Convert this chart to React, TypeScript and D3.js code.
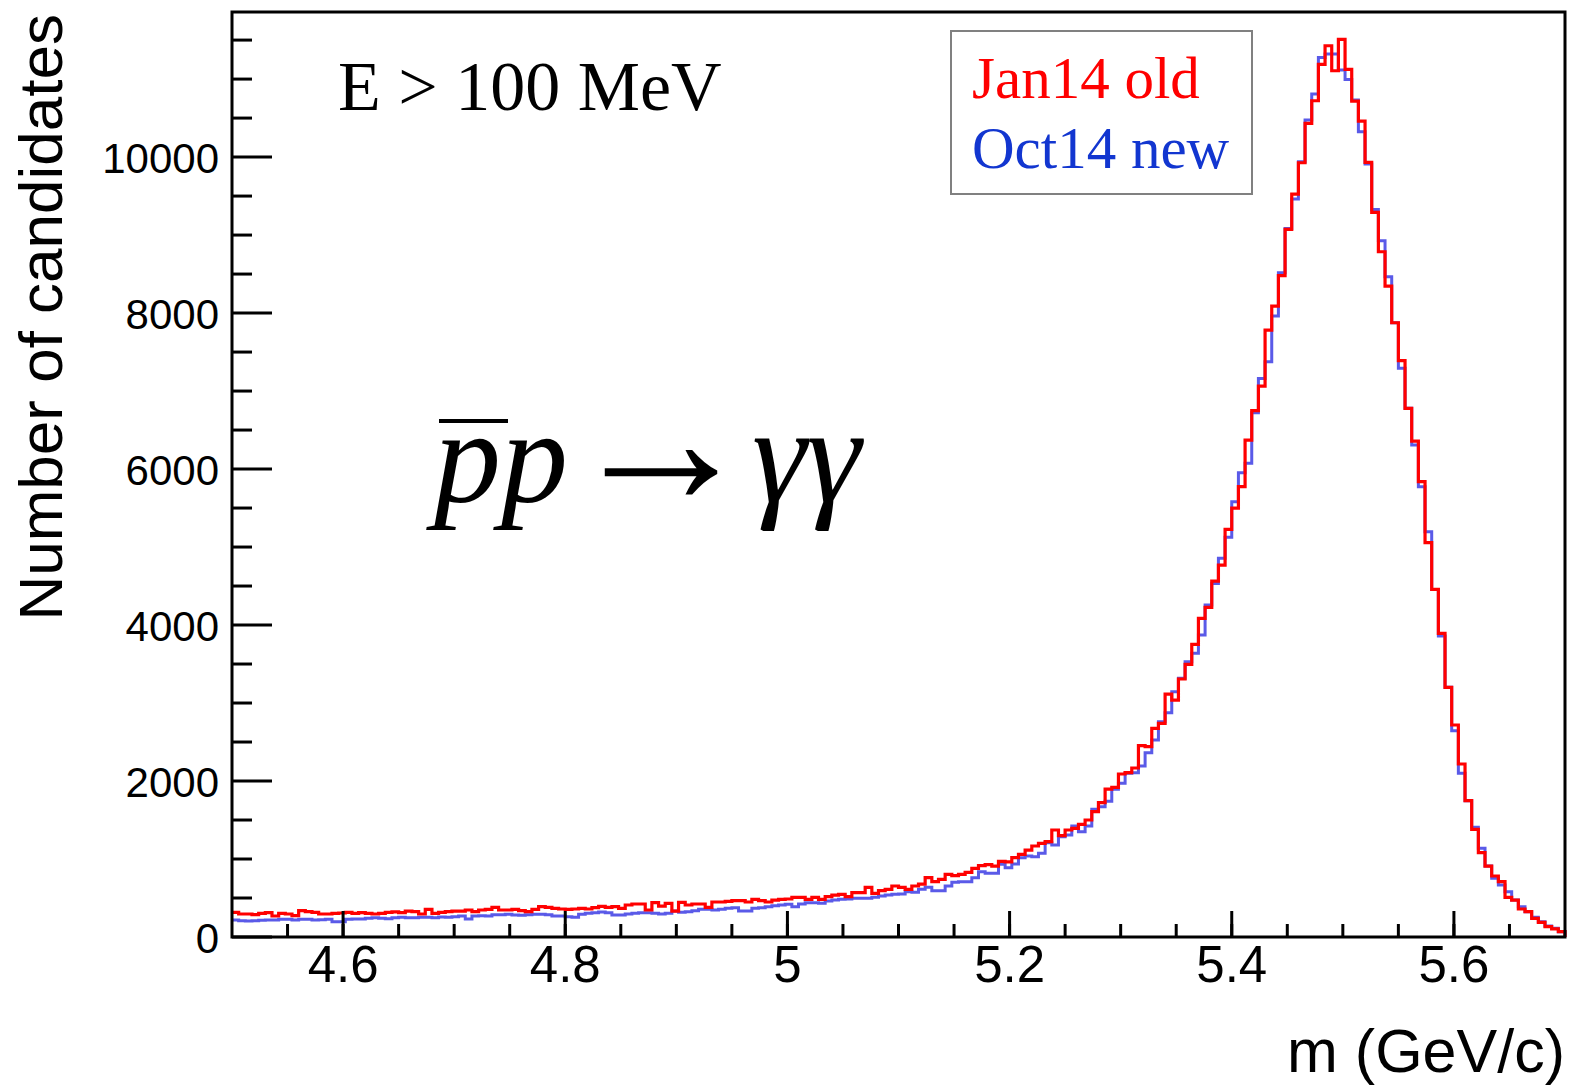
import * as d3 from 'd3';

// histogram binning (ROOT style, 200 bins on 4.5 - 5.7 GeV)
const X_MIN = 4.5;
const X_MAX = 5.7;
const N_BINS = 200;
const Y_MAX = 11860;

// Jan14 old (red)
const JAN14_OLD = [
  316, 295, 295, 286, 303, 312, 269, 303, 295, 274,
  338, 325, 316, 295, 295, 303, 308, 316, 303, 312,
  303, 295, 303, 316, 321, 312, 333, 325, 295, 355,
  303, 316, 325, 333, 333, 346, 325, 346, 355, 380,
  346, 346, 355, 338, 325, 355, 389, 380, 368, 359,
  355, 359, 368, 359, 376, 392, 380, 389, 368, 410,
  423, 423, 346, 440, 397, 432, 333, 444, 410, 423,
  423, 380, 449, 449, 457, 466, 466, 449, 483, 466,
  449, 474, 483, 487, 509, 509, 483, 509, 483, 517,
  538, 547, 517, 568, 568, 637, 560, 594, 611, 654,
  637, 611, 654, 679, 761, 709, 739, 803, 786, 803,
  829, 880, 915, 927, 910, 970, 962, 1017, 1060, 1115,
  1167, 1201, 1222, 1372, 1299, 1372, 1393, 1444, 1500, 1607,
  1722, 1897, 1919, 2090, 2107, 2167, 2453, 2440, 2675, 2739,
  3115, 3038, 3308, 3496, 3752, 4085, 4226, 4564, 4769, 5226,
  5500, 5774, 6372, 6748, 7064, 7782, 8090, 8480, 9072, 9526,
  9927, 10432, 10722, 11188, 11427, 11107, 11508, 11124, 10718, 10462,
  9932, 9291, 8786, 8346, 7876, 7389, 6778, 6359, 5838, 5056,
  4457, 3893, 3201, 2718, 2218, 1748, 1380, 1081, 910, 782,
  709, 509, 474, 359, 325, 239, 188, 132, 103, 68,
];

// Oct14 new (blue)
const OCT14_NEW = [
  218, 209, 205, 209, 214, 218, 218, 226, 226, 218,
  226, 226, 218, 222, 226, 197, 197, 226, 231, 231,
  239, 248, 239, 235, 248, 252, 248, 248, 252, 252,
  248, 256, 252, 261, 269, 231, 269, 274, 269, 286,
  286, 291, 282, 278, 286, 291, 291, 286, 269, 269,
  261, 252, 291, 303, 312, 320, 312, 282, 282, 295,
  304, 312, 312, 304, 295, 304, 333, 316, 325, 338,
  355, 355, 346, 355, 368, 376, 333, 333, 368, 376,
  389, 402, 410, 419, 389, 423, 440, 440, 432, 462,
  474, 483, 487, 496, 496, 496, 509, 526, 538, 547,
  551, 581, 573, 611, 637, 594, 594, 654, 701, 709,
  709, 761, 838, 816, 816, 932, 889, 936, 1017, 1038,
  1030, 1073, 1209, 1179, 1286, 1308, 1423, 1350, 1423, 1637,
  1671, 1740, 1893, 1970, 2098, 2107, 2192, 2363, 2526, 2761,
  2876, 3145, 3316, 3530, 3637, 3872, 4256, 4534, 4855, 5124,
  5581, 5953, 6073, 6722, 7162, 7376, 7962, 8517, 9085, 9462,
  9940, 10474, 10808, 11278, 11321, 11321, 11115, 10996, 10731, 10325,
  9910, 9329, 8927, 8465, 7876, 7291, 6778, 6308, 5774, 5196,
  4457, 3859, 3201, 2645, 2098, 1748, 1406, 1137, 910, 752,
  667, 581, 474, 389, 325, 252, 197, 141, 111, 68,
];

const X_MAJOR = [4.6, 4.8, 5, 5.2, 5.4, 5.6];
const X_LABELS = ['4.6', '4.8', '5', '5.2', '5.4', '5.6'];
const Y_MAJOR = [0, 2000, 4000, 6000, 8000, 10000];
const Y_LABELS = ['0', '2000', '4000', '6000', '8000', '10000'];

const LEGEND = [
  { label: 'Jan14 old', color: '#ff0000' },
  { label: 'Oct14 new', color: '#1236d0' },
];

const W = 1569, H = 1086;
const FRAME = { left: 232, right: 1565, top: 12, bottom: 937 };
const SANS = '"Liberation Sans", Arial, sans-serif';
const SERIF = '"Liberation Serif", "Times New Roman", serif';

const App = () => {
  const x = d3.scaleLinear().domain([X_MIN, X_MAX]).range([FRAME.left, FRAME.right]);
  const y = d3.scaleLinear().domain([0, Y_MAX]).range([FRAME.bottom, FRAME.top]);

  const binW = (X_MAX - X_MIN) / N_BINS;
  const stepLine = d3
    .line<[number, number]>()
    .x((d) => x(d[0]))
    .y((d) => y(d[1]))
    .curve(d3.curveStepAfter);

  const histPath = (counts: number[]) => {
    const pts: [number, number][] = counts.map((c, i) => [X_MIN + i * binW, c]);
    pts.push([X_MAX, counts[counts.length - 1]]);
    pts.push([X_MAX, 0]);
    return stepLine(pts) || '';
  };

  // minor ticks
  const xMinor = d3.range(1, 24).map((i) => +(X_MIN + i * 0.05).toFixed(2));
  const yMinor = d3.range(1, 24).map((i) => i * 500).filter((v) => v % 2000 !== 0 && v < Y_MAX);

  return (
    <svg width={W} height={H} style={{ position: 'absolute', left: 0, top: 0, background: '#fff' }}>
      <rect width={W} height={H} fill="#fff" />

      {/* histograms */}
      <path d={histPath(OCT14_NEW)} fill="none" stroke="#5a5ae8" strokeWidth={3} />
      <path d={histPath(JAN14_OLD)} fill="none" stroke="#ff0000" strokeWidth={3.2} />

      {/* frame */}
      <rect
        x={FRAME.left}
        y={FRAME.top}
        width={FRAME.right - FRAME.left}
        height={FRAME.bottom - FRAME.top}
        fill="none"
        stroke="#000"
        strokeWidth={3}
      />

      {/* x ticks */}
      {xMinor.map((v) => (
        <line key={'xm' + v} x1={x(v)} x2={x(v)} y1={FRAME.bottom} y2={FRAME.bottom - 13} stroke="#000" strokeWidth={3} />
      ))}
      {X_MAJOR.map((v, i) => (
        <g key={'xM' + v}>
          <line x1={x(v)} x2={x(v)} y1={FRAME.bottom} y2={FRAME.bottom - 26} stroke="#000" strokeWidth={3} />
          <text x={x(v)} y={982} textAnchor="middle" fontFamily={SANS} fontSize={51}>
            {X_LABELS[i]}
          </text>
        </g>
      ))}

      {/* y ticks */}
      {yMinor.map((v) => (
        <line key={'ym' + v} x1={FRAME.left} x2={FRAME.left + 20} y1={y(v)} y2={y(v)} stroke="#000" strokeWidth={3} />
      ))}
      {Y_MAJOR.map((v, i) => (
        <g key={'yM' + v}>
          <line x1={FRAME.left} x2={FRAME.left + 40} y1={y(v)} y2={y(v)} stroke="#000" strokeWidth={3} />
          <text x={219} y={y(v) + 16} textAnchor="end" fontFamily={SANS} fontSize={42}>
            {Y_LABELS[i]}
          </text>
        </g>
      ))}

      {/* axis titles */}
      <text x={FRAME.right} y={1072} textAnchor="end" fontFamily={SANS} fontSize={61}>
        m (GeV/c)
      </text>
      <text
        transform={`translate(62, ${FRAME.top + 2}) rotate(-90)`}
        textAnchor="end"
        fontFamily={SANS}
        fontSize={62}
      >
        Number of candidates
      </text>

      {/* annotations */}
      <text x={338} y={110} fontFamily={SERIF} fontSize={70}>
        E &gt; 100 MeV
      </text>
      <line x1={439} x2={508} y1={421} y2={421} stroke="#000" strokeWidth={4} />
      <text x={434} y={502} fontFamily={SERIF} fontStyle="italic" fontSize={134}>
        pp
      </text>
      <text x={566} y={504} fontFamily={SERIF} fontSize={190}>
        →
      </text>
      <text x={752} y={502} fontFamily={SERIF} fontStyle="italic" fontSize={138}>
        γγ
      </text>

      {/* legend */}
      <rect x={951} y={31} width={301} height={163} fill="#fff" stroke="#808080" strokeWidth={2} />
      {LEGEND.map((d, i) => (
        <text key={d.label} x={972} y={98 + i * 70} fill={d.color} fontFamily={SERIF} fontSize={59}>
          {d.label}
        </text>
      ))}
    </svg>
  );
};

export default App;
